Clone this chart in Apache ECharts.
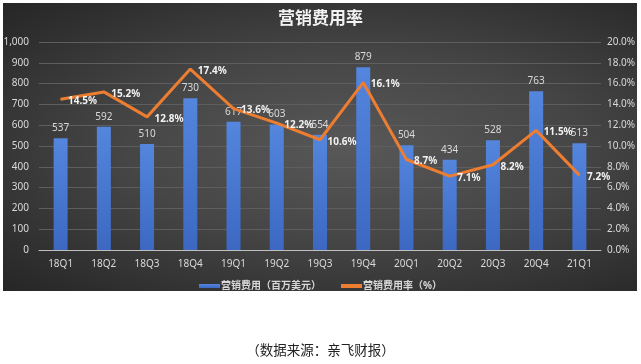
<!DOCTYPE html>
<html><head><meta charset="utf-8">
<script src="https://cdn.jsdelivr.net/npm/echarts@6/dist/echarts.min.js"></script>
<style>
html,body{margin:0;padding:0;background:#fff;}
#wrap{position:relative;width:641px;height:364px;}
#panel{position:absolute;left:3px;top:3px;width:634px;height:288px;background:radial-gradient(ellipse at 55% 50%, #585858 0%, #464646 45%, #2e2e2e 85%, #262626 100%);}
#c{position:absolute;left:0;top:0;width:641px;height:364px;}
</style></head>
<body><div id="wrap"><div id="panel"></div><div id="c"></div></div>
<script>
const categories = ['18Q1','18Q2','18Q3','18Q4','19Q1','19Q2','19Q3','19Q4','20Q1','20Q2','20Q3','20Q4','21Q1'];
const expense = [537,592,510,730,617,603,554,879,504,434,528,763,513];
const ratio = [14.5,15.2,12.8,17.4,13.6,12.2,10.6,16.1,8.7,7.1,8.2,11.5,7.2];
const leftTicks = {min:0,max:1000,interval:100};
const rightTicks = {min:0,max:20,interval:2};

const font = '"Noto Sans", "Noto Sans CJK SC", sans-serif';
const chart = echarts.init(document.getElementById('c'), null, {renderer:'canvas'});
chart.setOption({
  backgroundColor:'transparent',
  animation:false,
  title:[
    {text:'营销费用率', left:'center', top:6, textStyle:{color:'#f2f2f2', fontSize:17, fontWeight:'bold', fontFamily:font}},
    {text:'（数据来源：亲飞财报）', left:'center', top:338, textStyle:{color:'#222', fontSize:13.5, fontWeight:'normal', fontFamily:'"Noto Sans CJK SC", sans-serif'}}
  ],
  legend:{
    top:276, left:'center', itemWidth:21, itemHeight:4, itemGap:20,
    textStyle:{color:'#d9d9d9', fontSize:10, fontWeight:'bold', fontFamily:font, padding:[0,0,0,-4]},
    data:[{name:'营销费用（百万美元）', icon:'rect'},{name:'营销费用率（%）', icon:'rect'}]
  },
  grid:{left:39, right:40, top:42, bottom:114},
  xAxis:{type:'category', data:categories,
    axisLine:{lineStyle:{color:'#bfbfbf', width:1}}, axisTick:{show:false},
    axisLabel:{color:'#d9d9d9', fontSize:10, margin:9, fontFamily:font}},
  yAxis:[
    {type:'value', min:leftTicks.min, max:leftTicks.max, interval:leftTicks.interval,
     axisLabel:{color:'#d9d9d9', fontSize:10, margin:10, fontFamily:font, formatter:v=>v.toLocaleString('en-US')},
     splitLine:{lineStyle:{color:'#5e5e5e', width:1}}, axisLine:{show:false}, axisTick:{show:false}},
    {type:'value', min:rightTicks.min, max:rightTicks.max, interval:rightTicks.interval,
     axisLabel:{color:'#d9d9d9', fontSize:10, margin:6, fontFamily:font, formatter:v=>v.toFixed(1)+'%'},
     splitLine:{show:false}, axisLine:{show:false}, axisTick:{show:false}}
  ],
  series:[
    {name:'营销费用（百万美元）', type:'bar', data:expense, barWidth:14,
     itemStyle:{color:new echarts.graphic.LinearGradient(0,0,0,1,[{offset:0,color:'#5486de'},{offset:1,color:'#3c68c2'}])},
     label:{show:true, position:'top', distance:5, color:'#d9d9d9', fontSize:10, fontFamily:font}},
    {name:'营销费用率（%）', type:'line', yAxisIndex:1, data:ratio, symbol:'circle', symbolSize:1, showSymbol:true,
     lineStyle:{color:'#ed7d31', width:3}, itemStyle:{color:'#ed7d31'},
     label:{show:true, position:'right', distance:7, offset:[0,2], color:'#f2f2f2', fontSize:10, fontWeight:'bold', fontFamily:font, formatter:p=>p.value.toFixed(1)+'%'}}
  ]
});
</script></body></html>
